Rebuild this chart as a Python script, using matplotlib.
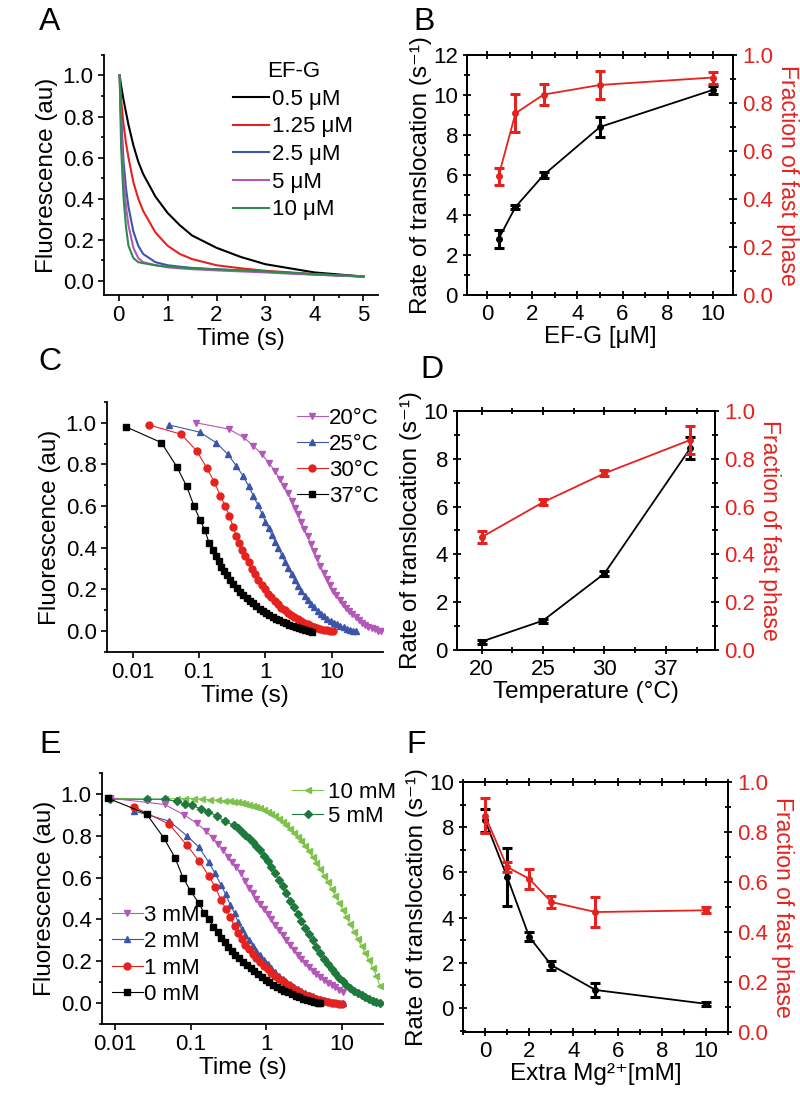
import matplotlib
matplotlib.use('Agg')
import matplotlib.pyplot as plt
from matplotlib.ticker import MultipleLocator, NullLocator, FixedLocator

plt.rcParams['font.family'] = ['Liberation Sans', 'DejaVu Sans']
plt.rcParams['axes.linewidth'] = 1.3

RED = '#e4221f'
BLUE = '#3b55a8'
VIOLET = '#b358b8'
DKGREEN = '#1d7a3c'
LTGREEN = '#7dc24b'

# ---- panel A: EF-G titration traces ----
a_time = [0.02, 0.05, 0.1, 0.15, 0.2, 0.3, 0.4, 0.5, 0.75, 1.0, 1.25, 1.5, 2.0, 2.5, 3.0, 3.5, 4.0, 4.5, 5.0]
a_05 = [1.0, 0.95, 0.88, 0.82, 0.76, 0.66, 0.58, 0.52, 0.41, 0.33, 0.27, 0.22, 0.16, 0.115, 0.08, 0.06, 0.04, 0.03, 0.02]
a_125 = [1.0, 0.88, 0.76, 0.67, 0.60, 0.48, 0.40, 0.34, 0.235, 0.17, 0.13, 0.105, 0.075, 0.06, 0.048, 0.04, 0.032, 0.026, 0.02]
a_25 = [1.0, 0.80, 0.58, 0.45, 0.36, 0.24, 0.17, 0.13, 0.09, 0.075, 0.068, 0.062, 0.055, 0.05, 0.043, 0.037, 0.03, 0.025, 0.02]
a_5 = [1.0, 0.75, 0.50, 0.36, 0.27, 0.16, 0.11, 0.09, 0.075, 0.065, 0.06, 0.056, 0.05, 0.045, 0.04, 0.034, 0.029, 0.024, 0.02]
a_10 = [1.0, 0.65, 0.40, 0.26, 0.17, 0.11, 0.09, 0.085, 0.075, 0.068, 0.064, 0.06, 0.055, 0.05, 0.045, 0.038, 0.032, 0.026, 0.02]
a_labels = ['0.5 μM', '1.25 μM', '2.5 μM', '5 μM', '10 μM']

# ---- panel B: rate / fraction vs EF-G ----
b_conc = [0.5, 1.25, 2.5, 5, 10]
b_rate = [2.8, 4.4, 6.0, 8.4, 10.25]
b_rate_err = [0.45, 0.12, 0.15, 0.5, 0.2]
b_frac = [0.495, 0.757, 0.835, 0.875, 0.906]
b_frac_err = [0.035, 0.08, 0.045, 0.06, 0.025]

# ---- panel C: temperature traces ----
c37_t = [0.008, 0.027, 0.046, 0.065, 0.084, 0.103, 0.122, 0.141, 0.16, 0.179, 0.198, 0.217, 0.236,
         0.26, 0.29, 0.33, 0.37, 0.41, 0.46, 0.52, 0.58, 0.65, 0.73, 0.82, 0.92, 1.03, 1.15, 1.29, 1.45,
         1.62, 1.82, 2.04, 2.28, 2.56, 2.87, 3.2, 3.6, 4.0, 4.5, 5.0]
c37_y = [0.98, 0.905, 0.79, 0.695, 0.60, 0.535, 0.485, 0.425, 0.39, 0.36, 0.335, 0.31, 0.29,
         0.27, 0.245, 0.225, 0.205, 0.19, 0.175, 0.16, 0.145, 0.133, 0.12, 0.108, 0.097, 0.087, 0.078, 0.069, 0.06,
         0.052, 0.045, 0.038, 0.031, 0.025, 0.019, 0.014, 0.009, 0.005, 0.001, -0.003]
c30_t = [0.0175, 0.054, 0.092, 0.13, 0.17, 0.209, 0.248, 0.287, 0.326, 0.365, 0.404,
         0.45, 0.5, 0.56, 0.63, 0.7, 0.78, 0.88, 0.98, 1.1, 1.23, 1.38, 1.55, 1.73, 1.94, 2.17, 2.43, 2.72,
         3.05, 3.4, 3.8, 4.3, 4.8, 5.4, 6.0, 6.7, 7.5, 8.4, 9.4, 10.4]
c30_y = [0.99, 0.945, 0.865, 0.785, 0.715, 0.65, 0.60, 0.552, 0.50, 0.456, 0.424,
         0.39, 0.36, 0.33, 0.30, 0.272, 0.245, 0.22, 0.2, 0.18, 0.162, 0.145, 0.128, 0.113, 0.1, 0.088, 0.077, 0.067,
         0.058, 0.049, 0.041, 0.034, 0.027, 0.021, 0.016, 0.011, 0.007, 0.004, 0.001, 0.0]
c25_t = [0.035, 0.103, 0.18, 0.27, 0.36, 0.46, 0.56, 0.66, 0.77, 0.89, 1.0, 1.12,
         1.25, 1.4, 1.57, 1.76, 1.97, 2.2, 2.47, 2.76, 3.1, 3.47, 3.9, 4.35, 4.9, 5.45, 6.1, 6.85, 7.7, 8.6,
         9.6, 10.8, 12.1, 13.5, 15.1, 17.0, 19.0, 21.2, 23.0]
c25_y = [0.99, 0.955, 0.905, 0.85, 0.795, 0.745, 0.695, 0.648, 0.605, 0.563, 0.525, 0.493,
         0.462, 0.43, 0.398, 0.365, 0.333, 0.302, 0.272, 0.245, 0.218, 0.193, 0.17, 0.15, 0.131, 0.114, 0.098,
         0.084, 0.071, 0.06, 0.05, 0.04, 0.032, 0.025, 0.018, 0.012, 0.007, 0.003, 0.0]
c20_t = [0.09, 0.28, 0.47, 0.66, 0.89, 1.12, 1.37, 1.63, 1.9, 2.19, 2.5, 2.8, 3.1,
         3.45, 3.85, 4.3, 4.8, 5.35, 6.0, 6.7, 7.5, 8.4, 9.4, 10.5, 11.7, 13.1, 14.6, 16.3, 18.2, 20.4,
         22.8, 25.5, 28.5, 31.8, 35.5, 39.7, 44.3, 49.5, 55.0]
c20_y = [1.0, 0.97, 0.93, 0.888, 0.848, 0.808, 0.771, 0.731, 0.696, 0.661, 0.627, 0.592, 0.56,
         0.525, 0.49, 0.455, 0.42, 0.385, 0.35, 0.315, 0.28, 0.25, 0.22, 0.195, 0.172, 0.15, 0.13, 0.112, 0.095,
         0.08, 0.066, 0.053, 0.041, 0.031, 0.022, 0.014, 0.008, 0.003, 0.0]

# ---- panel D: rate / fraction vs temperature ----
d_temp = [20, 25, 30, 37]
d_rate = [0.35, 1.23, 3.2, 8.45]
d_rate_err = [0.08, 0.08, 0.12, 0.45]
d_frac = [0.472, 0.618, 0.739, 0.879]
d_frac_err = [0.025, 0.012, 0.012, 0.06]

# ---- panel E: Mg2+ traces ----
e0_t = [0.008, 0.026, 0.044, 0.062, 0.079, 0.1, 0.127, 0.151, 0.175, 0.2, 0.227, 0.253, 0.28,
        0.31, 0.35, 0.39, 0.44, 0.49, 0.55, 0.62, 0.69, 0.78, 0.87, 0.98, 1.1, 1.23, 1.38, 1.55, 1.73,
        1.94, 2.18, 2.44, 2.73, 3.06, 3.43, 3.85, 4.3, 4.8, 5.2]
e0_y = [0.98, 0.905, 0.79, 0.695, 0.60, 0.535, 0.48, 0.43, 0.40, 0.365, 0.34, 0.31, 0.29,
        0.27, 0.25, 0.232, 0.215, 0.198, 0.182, 0.166, 0.152, 0.138, 0.125, 0.112, 0.1, 0.089, 0.079, 0.069, 0.06,
        0.051, 0.043, 0.036, 0.029, 0.022, 0.016, 0.011, 0.006, 0.002, 0.0]
e1_t = [0.0175, 0.052, 0.089, 0.129, 0.172, 0.21, 0.25, 0.29, 0.333, 0.38, 0.42, 0.47, 0.53,
        0.59, 0.66, 0.74, 0.83, 0.93, 1.04, 1.17, 1.31, 1.47, 1.65, 1.85, 2.07, 2.32, 2.6, 2.92, 3.27,
        3.67, 4.1, 4.6, 5.2, 5.8, 6.5, 7.3, 8.2, 9.2, 9.9]
e1_y = [0.94, 0.855, 0.755, 0.68, 0.61, 0.555, 0.495, 0.452, 0.41, 0.368, 0.335, 0.305, 0.28,
        0.258, 0.236, 0.215, 0.196, 0.178, 0.162, 0.146, 0.131, 0.117, 0.104, 0.092, 0.08, 0.069, 0.059, 0.05,
        0.041, 0.033, 0.026, 0.02, 0.014, 0.009, 0.005, 0.002, 0.0, -0.002, -0.003]
e2_t = [0.0175, 0.052, 0.089, 0.129, 0.172, 0.21, 0.25, 0.29, 0.333, 0.38, 0.42, 0.47, 0.53,
        0.59, 0.66, 0.74, 0.83, 0.93, 1.04, 1.17, 1.31, 1.47, 1.65, 1.85, 2.07, 2.32, 2.6, 2.92, 3.27,
        3.67, 4.1, 4.6, 5.2, 5.8, 6.5, 7.3, 8.2, 9.2, 10.3]
e2_y = [0.92, 0.87, 0.80, 0.745, 0.675, 0.62, 0.567, 0.52, 0.47, 0.43, 0.39, 0.355, 0.325,
        0.3, 0.275, 0.25, 0.228, 0.206, 0.185, 0.166, 0.148, 0.132, 0.117, 0.103, 0.09, 0.078, 0.067, 0.057,
        0.048, 0.04, 0.032, 0.026, 0.02, 0.015, 0.01, 0.006, 0.003, 0.001, 0.0]
e3_t = [0.0085, 0.045, 0.082, 0.12, 0.157, 0.195, 0.232, 0.27, 0.31, 0.35, 0.4, 0.46, 0.53,
        0.59, 0.66, 0.74, 0.83, 0.93, 1.04, 1.17, 1.31, 1.47, 1.65, 1.85, 2.07, 2.32, 2.6, 2.92, 3.27,
        3.67, 4.1, 4.6, 5.2, 5.8, 6.5, 7.3, 8.2, 9.2, 10.3]
e3_y = [0.98, 0.95, 0.90, 0.86, 0.825, 0.79, 0.76, 0.73, 0.70, 0.675, 0.65, 0.62, 0.585,
        0.55, 0.525, 0.5, 0.475, 0.45, 0.425, 0.4, 0.375, 0.35, 0.325, 0.3, 0.277, 0.254, 0.232, 0.211,
        0.191, 0.173, 0.156, 0.14, 0.125, 0.111, 0.098, 0.086, 0.075, 0.065, 0.055]
e5_t = [0.0085, 0.026, 0.045, 0.065, 0.085, 0.105, 0.135, 0.17, 0.22, 0.28, 0.37,
        0.42, 0.47, 0.53, 0.59, 0.66, 0.74, 0.83, 0.93, 1.04, 1.17, 1.31, 1.47, 1.65, 1.85, 2.07, 2.32,
        2.6, 2.92, 3.27, 3.67, 4.1, 4.6, 5.2, 5.8, 6.5, 7.3, 8.2, 9.2, 10.3, 11.5, 12.9, 14.5, 16.2, 18.2,
        20.4, 22.8, 25.6, 28.7, 32.0]
e5_y = [0.975, 0.975, 0.975, 0.965, 0.95, 0.945, 0.93, 0.915, 0.895, 0.87, 0.85,
        0.835, 0.82, 0.805, 0.79, 0.77, 0.75, 0.73, 0.705, 0.68, 0.65, 0.62, 0.59, 0.56, 0.525, 0.49, 0.46,
        0.425, 0.395, 0.36, 0.33, 0.3, 0.268, 0.24, 0.212, 0.187, 0.163, 0.142, 0.122, 0.104, 0.088, 0.073,
        0.06, 0.048, 0.037, 0.027, 0.019, 0.011, 0.005, 0.0]
e10_t = [0.0085, 0.026, 0.045, 0.065, 0.085, 0.11, 0.14, 0.18, 0.23, 0.28,
         0.33, 0.37, 0.42, 0.47, 0.53, 0.59, 0.66, 0.74, 0.83, 0.93, 1.04, 1.17, 1.31, 1.47, 1.65, 1.85,
         2.07, 2.32, 2.6, 2.92, 3.27, 3.67, 4.1, 4.6, 5.2, 5.8, 6.5, 7.3, 8.2, 9.2, 10.3, 11.5, 12.9, 14.5,
         16.2, 18.2, 20.4, 22.8, 25.6, 28.7, 32.0]
e10_y = [0.98, 0.975, 0.975, 0.978, 0.978, 0.978, 0.975, 0.972, 0.97, 0.967,
         0.965, 0.963, 0.96, 0.957, 0.953, 0.949, 0.944, 0.938, 0.931, 0.923, 0.914, 0.904, 0.893, 0.88, 0.866,
         0.851, 0.834, 0.815, 0.795, 0.773, 0.75, 0.725, 0.698, 0.67, 0.64, 0.61, 0.578, 0.546, 0.513, 0.48,
         0.446, 0.412, 0.377, 0.342, 0.307, 0.272, 0.238, 0.205, 0.17, 0.13, 0.08]

# ---- panel F: rate / fraction vs extra Mg2+ ----
f_mg = [0, 1, 2, 3, 5, 10]
f_rate = [8.3, 5.8, 3.15, 1.9, 0.8, 0.19]
f_rate_err = [0.5, 1.3, 0.2, 0.2, 0.3, 0.08]
f_frac = [0.865, 0.66, 0.613, 0.52, 0.48, 0.487]
f_frac_err = [0.07, 0.02, 0.04, 0.025, 0.06, 0.012]

TICK = 16
LAB = 17.5

fig = plt.figure(figsize=(8, 10.95), dpi=100)


def trace_axes(ax):
    ax.spines['top'].set_visible(False)
    ax.spines['right'].set_visible(False)
    ax.tick_params(which='both', direction='out', labelsize=TICK, width=1.2)
    ax.tick_params(which='major', length=4)
    ax.tick_params(which='minor', length=2.5)
    ax.set_ylim(-0.1, 1.1)
    ax.yaxis.set_major_locator(MultipleLocator(0.2))
    ax.yaxis.set_minor_locator(MultipleLocator(0.1))
    ax.set_ylabel('Fluorescence (au)', fontsize=LAB, labelpad=3)
    ax.set_xlabel('Time (s)', fontsize=LAB, labelpad=1)


def log_time(ax, xlim):
    ax.set_xscale('log')
    ax.set_xlim(xlim)
    ax.xaxis.set_major_locator(FixedLocator([0.01, 0.1, 1, 10]))
    ax.xaxis.set_minor_locator(NullLocator())
    ax.set_xticklabels(['0.01', '0.1', '1', '10'])


def dual(ax, x, rate, rate_err, frac, frac_err, ylim):
    ax.errorbar(x, rate, yerr=rate_err, color='k', marker='o', ms=4, lw=1.3,
                elinewidth=2.2, capsize=3.5, capthick=2.2)
    ax2 = ax.twinx()
    ax2.errorbar(x, frac, yerr=frac_err, color=RED, marker='o', ms=4, lw=1.3,
                 elinewidth=2.2, capsize=3.5, capthick=2.2)
    ax.set_ylim(ylim)
    ax2.set_ylim(0, 1.0)
    ax.yaxis.set_major_locator(MultipleLocator(2))
    ax.yaxis.set_minor_locator(MultipleLocator(1))
    ax2.yaxis.set_major_locator(MultipleLocator(0.2))
    ax2.yaxis.set_minor_locator(MultipleLocator(0.1))
    ax2.yaxis.set_major_formatter(plt.FuncFormatter(lambda v, p: '%.1f' % v))
    ax.tick_params(which='both', direction='inout', top=True, labelsize=TICK, width=1.3)
    ax.tick_params(which='major', length=6)
    ax.tick_params(which='minor', length=5)
    ax2.tick_params(which='both', direction='inout', labelsize=TICK, width=1.3, labelcolor=RED)
    ax2.tick_params(which='major', length=6)
    ax2.tick_params(which='minor', length=5)
    ax.set_ylabel('Rate of translocation (s⁻¹)', fontsize=LAB, labelpad=1)
    ax2.set_ylabel('Fraction of fast phase', fontsize=16.5, color=RED, rotation=270, labelpad=19)
    return ax2


leg_kw = dict(frameon=False, fontsize=TICK, borderpad=0, borderaxespad=0, handlelength=1.4)

# A
axA = fig.add_axes([0.13, 0.7306, 0.3425, 0.2192])
a_colors = ['k', RED, BLUE, VIOLET, '#2e8b4f']
for y, c, lab in zip([a_05, a_125, a_25, a_5, a_10], a_colors, a_labels):
    axA.plot(a_time, y, color=c, lw=1.5, label=lab)
trace_axes(axA)
axA.set_ylim(-0.07, 1.1)
axA.set_xlim(-0.3, 5.3)
axA.xaxis.set_major_locator(MultipleLocator(1))
axA.xaxis.set_minor_locator(MultipleLocator(0.5))
axA.legend(title='EF-G', title_fontsize=TICK, loc='upper right', bbox_to_anchor=(0.91, 0.975),
           handletextpad=0.15, labelspacing=0.3, **dict(leg_kw, handlelength=1.6))

# B
axB = fig.add_axes([0.58375, 0.7306, 0.3325, 0.2192])
dual(axB, b_conc, b_rate, b_rate_err, b_frac, b_frac_err, (0, 12))
axB.set_xlim(-0.9, 10.9)
axB.xaxis.set_major_locator(MultipleLocator(2))
axB.xaxis.set_minor_locator(MultipleLocator(1))
axB.set_xlabel('EF-G [μM]', fontsize=LAB, labelpad=1)

# C
axC = fig.add_axes([0.13375, 0.4046, 0.345, 0.2283])
c_series = [(c20_t, c20_y, VIOLET, 'v', '20°C'), (c25_t, c25_y, BLUE, '^', '25°C'),
            (c30_t, c30_y, RED, 'o', '30°C'), (c37_t, c37_y, 'k', 's', '37°C')]
for t, y, c, m, lab in c_series:
    axC.plot(t, y, color=c, marker=m, ms=5, lw=0.8, label=lab)
trace_axes(axC)
log_time(axC, (0.0041, 59))
axC.legend(loc='upper right', bbox_to_anchor=(0.985, 0.975), handletextpad=0.05, labelspacing=0.22, **leg_kw)

# D
axD = fig.add_axes([0.57125, 0.4064, 0.3225, 0.2183])
dual(axD, d_temp, d_rate, d_rate_err, d_frac, d_frac_err, (0, 10))
axD.set_xlim(18, 39)
axD.xaxis.set_major_locator(FixedLocator([20, 25, 30, 35]))
axD.xaxis.set_minor_locator(MultipleLocator(2.5))
axD.set_xticklabels(['20', '25', '30', '37'])
axD.set_xlabel('Temperature (°C)', fontsize=LAB, labelpad=1)

# E
axE = fig.add_axes([0.1275, 0.0648, 0.35125, 0.2292])
e_series = [(e10_t, e10_y, LTGREEN, '<', '10 mM'), (e5_t, e5_y, DKGREEN, 'D', '5 mM'),
            (e3_t, e3_y, VIOLET, 'v', '3 mM'), (e2_t, e2_y, BLUE, '^', '2 mM'),
            (e1_t, e1_y, RED, 'o', '1 mM'), (e0_t, e0_y, 'k', 's', '0 mM')]
handles = []
for t, y, c, m, lab in e_series:
    h, = axE.plot(t, y, color=c, marker=m, ms=5 if m != 'D' else 4.2, lw=0.8, label=lab)
    handles.append(h)
trace_axes(axE)
log_time(axE, (0.0067, 35))
leg1 = axE.legend(handles=handles[:2], loc='upper right', bbox_to_anchor=(1.045, 0.965),
                  handletextpad=0.2, labelspacing=0.15, **leg_kw)
axE.add_artist(leg1)
axE.legend(handles=handles[2:], loc='lower left', bbox_to_anchor=(0.035, 0.075),
           handletextpad=0.05, labelspacing=0.25, **leg_kw)

# F
axF = fig.add_axes([0.57875, 0.0575, 0.33125, 0.2283])
dual(axF, f_mg, f_rate, f_rate_err, f_frac, f_frac_err, (-1.06, 10))
axF.set_xlim(-1, 11)
axF.xaxis.set_major_locator(MultipleLocator(2))
axF.xaxis.set_minor_locator(MultipleLocator(1))
axF.set_xlabel('Extra Mg²⁺[mM]', fontsize=LAB, labelpad=1)

for lab, x, y in [('A', 50, 22), ('B', 424, 22), ('C', 50, 362), ('D', 432, 370), ('E', 50, 745), ('F', 416, 745)]:
    fig.text(x / 800, 1 - y / 1095, lab, fontsize=23, ha='center', va='center')

fig.savefig('out.png', dpi=100)
